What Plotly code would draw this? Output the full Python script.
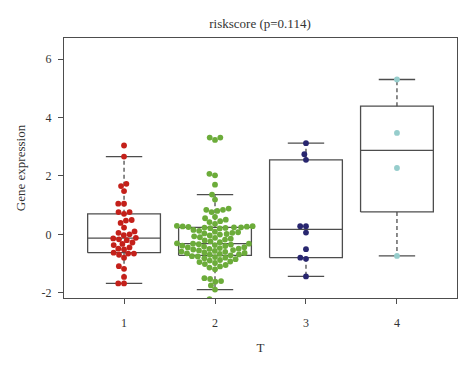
import math
import numpy as np
import plotly.graph_objects as go

# ---- data ----
categories = ["1", "2", "3", "4"]
group1 = [3.04, 2.66, 1.73, 1.65, 1.48, 1.05, 1.05, 0.76, 0.76, 0.70,
          0.49, 0.47, 0.39, 0.23, 0.10, 0.05, 0.00, -0.03, -0.12, -0.14,
          -0.17, -0.20, -0.28, -0.33, -0.37, -0.45, -0.49, -0.52, -0.63, -0.66,
          -0.66, -0.70, -0.80, -1.09, -1.18, -1.46, -1.68, -1.68]
group2 = [3.31, 3.23, 3.31, 2.07, 2.02, 1.70,
          1.36, 1.19, 0.88, 0.84, 0.84, 0.80, 0.76, 0.60, 0.55, 0.50, 0.45, 0.42, 0.36,
          0.29, 0.28, 0.27, 0.26, 0.25, 0.24, 0.24, 0.23, 0.22, 0.21, 0.20,
          0.15, 0.12, 0.09, 0.07, 0.05, 0.03, 0.01, -0.01,
          -0.04, -0.07, -0.10, -0.12, -0.15, -0.18, -0.21, -0.24, -0.27,
          -0.31, -0.32, -0.32,
          -0.34, -0.35, -0.37, -0.39, -0.40, -0.42, -0.44, -0.45, -0.47, -0.49, -0.50, -0.52,
          -0.54, -0.55, -0.57, -0.59, -0.60, -0.62, -0.64, -0.65, -0.67, -0.69, -0.70,
          -0.72,
          -0.75, -0.76, -0.78, -0.80, -0.82, -0.85, -0.88, -0.90, -0.93, -0.95, -0.98, -1.02, -1.05,
          -1.10, -1.14, -1.20, -1.50, -1.53, -1.60, -1.62, -1.75, -1.89,
          -2.22, -2.28]
group3 = [3.12, 2.74, 2.55, 0.28, 0.28, 0.06, -0.51, -0.80, -0.84, -1.44]
group4 = [5.30, 3.47, 2.27, -0.74]
groups = [group1, group2, group3, group4]
colors = ["#C4201A", "#6CAC3A", "#28266F", "#96CDCC"]

title_text = "riskscore (p=0.114)"
x_title = "T"
y_title = "Gene expression"
y_ticks = [-2, 0, 2, 4, 6]

# ---- layout constants (page body has an 8px margin) ----
W, H = 466, 352
ML, MR, MT, MB = 56, 17, 30, 61.5
XR = [0.34, 4.66]
YR = [-2.18, 6.72]
px_x = (W - ML - MR) / (XR[1] - XR[0])
px_y = (H - MT - MB) / (YR[1] - YR[0])
DOT = 5.8


def fivenum(v):
    s = sorted(v)
    n = len(s)
    n4 = math.floor((n + 3) / 2) / 2
    d = [1, n4, (n + 1) / 2, n + 1 - n4, n]
    return [0.5 * (s[math.floor(k) - 1] + s[math.ceil(k) - 1]) for k in d]


def box_stats(v):
    mn, q1, med, q3, mx = fivenum(v)
    iqr = q3 - q1
    arr = np.array(v)
    up = arr[arr <= q3 + 1.5 * iqr].max()
    lo = arr[arr >= q1 - 1.5 * iqr].min()
    return lo, q1, med, q3, up


def swarm(v):
    order = np.argsort(v, kind="stable")
    placed = []
    xs = np.zeros(len(v))
    for i in order:
        y = v[i] * px_y
        cands = [0.0]
        for (xj, yj) in placed:
            dy = y - yj
            if abs(dy) < DOT:
                dx = math.sqrt(DOT * DOT - dy * dy)
                cands += [xj + dx, xj - dx]
        cands.sort(key=lambda c: (abs(c), c))
        for c in cands:
            ok = True
            for (xj, yj) in placed:
                if (c - xj) ** 2 + (y - yj) ** 2 < DOT * DOT - 1e-6:
                    ok = False
                    break
            if ok:
                xs[i] = c
                placed.append((c, y))
                break
    return xs / px_x


fig = go.Figure()
LINE = dict(color="#4d4d4d", width=1.3)
BW = 0.4
SW = 0.2
for k, (vals, col) in enumerate(zip(groups, colors)):
    c = k + 1
    lo, q1, med, q3, up = box_stats(vals)
    fig.add_trace(go.Scatter(x=[c - BW, c + BW, c + BW, c - BW, c - BW],
                             y=[q1, q1, q3, q3, q1], mode="lines", line=LINE,
                             hoverinfo="skip", showlegend=False))
    fig.add_trace(go.Scatter(x=[c - BW, c + BW], y=[med, med], mode="lines",
                             line=LINE, hoverinfo="skip", showlegend=False))
    for a, b in [(q3, up), (q1, lo)]:
        fig.add_trace(go.Scatter(x=[c, c], y=[a, b], mode="lines",
                                 line=dict(color="#4d4d4d", width=1.3, dash="4px,3px"),
                                 hoverinfo="skip", showlegend=False))
    for e in [up, lo]:
        fig.add_trace(go.Scatter(x=[c - SW, c + SW], y=[e, e], mode="lines",
                                 line=LINE, hoverinfo="skip", showlegend=False))

for k, (vals, col) in enumerate(zip(groups, colors)):
    offs = swarm(np.array(vals))
    fig.add_trace(go.Scatter(x=(k + 1) + offs, y=vals, mode="markers",
                             marker=dict(color=col, size=DOT, line=dict(width=0)),
                             showlegend=False))

font = "Liberation Serif, Times New Roman, serif"
fig.update_layout(
    width=W, height=H,
    margin=dict(l=ML, r=MR, t=MT, b=MB, autoexpand=False),
    paper_bgcolor="white", plot_bgcolor="white",
    font=dict(family=font, size=12, color="#333333"),
    title=dict(text=title_text, x=252 / W, xanchor="center", y=1 - 15 / H, yanchor="middle",
               font=dict(family=font, size=13, color="#333333")),
    showlegend=False,
)
fig.update_xaxes(range=XR, tickmode="array", tickvals=[1, 2, 3, 4], ticktext=categories,
                 ticks="outside", ticklen=5, tickcolor="#4d4d4d", showline=True,
                 linecolor="#4d4d4d", linewidth=1.3, mirror=True, showgrid=False,
                 zeroline=False, ticklabelstandoff=8, automargin=False,
                 title=dict(text=x_title, standoff=14, font=dict(size=13)))
fig.update_yaxes(range=YR, tickmode="array", tickvals=y_ticks,
                 ticktext=[str(t) if t >= 0 else "-" + str(-t) for t in y_ticks],
                 ticks="outside", ticklen=5, tickcolor="#4d4d4d", showline=True,
                 linecolor="#4d4d4d", linewidth=1.3, mirror=True, showgrid=False,
                 zeroline=False, ticklabelstandoff=4, automargin=False,
                 title=dict(text=y_title, standoff=12, font=dict(size=13)))

fig.write_html("out.html")
